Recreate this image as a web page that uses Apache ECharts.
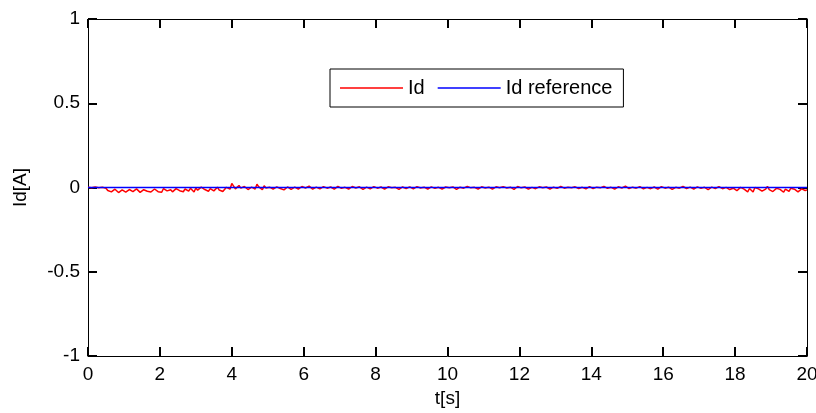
<!DOCTYPE html>
<html>
<head>
<meta charset="utf-8">
<script src="https://cdn.jsdelivr.net/npm/echarts@6/dist/echarts.min.js"></script>
<style>
html,body{margin:0;padding:0;background:#fff;}
#c{width:816px;height:413px;}
</style>
</head>
<body>
<div id="c"></div>
<script>
// ---- data ----
var tStart = 0;
var tStep = 0.05;
var idValues = [
 0.002,0.000,-0.001,0.003,0.003,-0.001,-0.002,0.001,0.001,-0.003,-0.004,-0.018,-0.012,-0.026,-0.022,-0.010,-0.015,-0.030,-0.028,-0.014,
 -0.018,-0.027,-0.025,-0.012,-0.010,-0.024,-0.021,-0.008,-0.014,-0.029,-0.026,-0.013,-0.008,-0.022,-0.019,-0.027,-0.023,-0.009,-0.011,-0.025,
 -0.017,-0.028,-0.006,-0.015,-0.020,-0.011,-0.013,-0.026,-0.024,-0.007,-0.004,-0.019,-0.016,-0.025,-0.009,-0.018,-0.021,-0.005,-0.012,-0.027,
 -0.003,-0.016,-0.018,0.002,0.004,-0.012,-0.014,-0.022,-0.007,0.003,-0.020,-0.009,0.002,-0.015,-0.011,-0.024,-0.016,0.001,0.006,-0.010,
 0.024,0.008,-0.008,-0.016,0.012,-0.004,-0.015,0.006,0.003,-0.012,-0.010,0.002,0.008,-0.009,0.019,0.004,-0.006,-0.013,0.010,-0.003,
 -0.012,0.002,0.005,-0.010,-0.009,0.004,0.011,-0.006,-0.004,-0.014,-0.013,0.003,0.007,-0.011,-0.008,0.002,0.003,-0.009,-0.010,0.006,
 0.014,-0.003,-0.006,0.008,0.009,-0.010,-0.011,0.002,0.004,-0.008,-0.007,0.005,0.012,-0.004,-0.009,0.003,0.006,-0.010,-0.004,0.007,
 0.010,-0.005,-0.012,0.001,0.003,-0.009,-0.008,0.006,0.011,-0.003,-0.005,0.004,0.007,-0.011,-0.010,0.002,0.002,-0.008,-0.006,0.005,
 0.009,-0.004,-0.011,0.003,0.005,-0.010,-0.007,0.004,0.013,-0.002,-0.009,0.001,0.004,-0.011,-0.012,0.003,0.008,-0.006,-0.005,0.004,
 0.006,-0.008,-0.010,0.005,0.011,-0.003,-0.004,0.002,0.003,-0.010,-0.008,0.004,0.009,-0.005,-0.011,0.001,0.005,-0.009,-0.007,0.003,
 0.010,-0.002,-0.006,0.003,0.004,-0.011,-0.012,0.002,0.007,-0.004,-0.003,0.006,0.012,-0.002,-0.009,0.001,0.002,-0.010,-0.008,0.004,
 0.008,-0.003,-0.005,0.002,0.003,-0.009,-0.010,0.004,0.006,-0.002,-0.004,0.005,0.011,-0.003,-0.007,0.002,0.001,-0.011,-0.009,0.006,
 0.012,-0.002,-0.006,0.003,0.005,-0.010,-0.011,0.001,0.003,-0.007,-0.008,0.004,0.009,-0.002,-0.004,0.003,0.007,-0.009,-0.010,0.002,
 0.004,-0.005,-0.007,0.006,0.010,-0.004,-0.012,0.002,0.006,-0.002,-0.003,0.004,0.008,-0.006,-0.009,0.001,0.002,-0.008,-0.006,0.005,
 0.009,-0.006,-0.011,0.002,0.005,-0.002,-0.004,0.007,0.011,-0.005,-0.008,0.001,0.003,-0.009,-0.010,0.004,0.007,-0.003,-0.005,0.008,
 0.012,-0.006,-0.013,0.002,0.006,-0.004,-0.009,0.005,0.010,-0.008,-0.015,0.001,0.004,-0.007,-0.011,0.003,0.008,-0.010,-0.016,0.005,
 0.011,-0.004,-0.012,0.002,0.007,-0.011,-0.018,0.001,0.005,-0.004,-0.010,0.006,0.013,-0.006,-0.014,0.002,0.003,-0.009,-0.017,0.004,
 0.009,-0.005,-0.013,0.001,0.006,-0.012,-0.019,0.002,0.004,-0.006,-0.011,0.005,0.010,-0.007,-0.016,0.001,0.002,-0.012,-0.020,-0.004,
 -0.008,-0.019,-0.024,0.001,0.005,-0.010,-0.018,-0.026,-0.006,-0.015,-0.027,0.000,0.003,-0.008,-0.015,-0.022,-0.021,-0.009,0.007,-0.013,
 -0.012,-0.024,-0.026,-0.005,0.004,-0.011,-0.019,-0.028,-0.009,-0.016,-0.023,-0.004,0.006,-0.010,-0.017,-0.026,-0.025,-0.008,0.002,-0.018,
 -0.014
];
var refTimes = [0, 20];
var refValues = [0, 0];
var xTicks = {min: 0, max: 20, interval: 2};
var yTicks = {min: -1, max: 1, interval: 0.5};
var seriesNames = ['Id', 'Id reference'];

// ---- build ----
var idData = idValues.map(function (v, i) { return [tStart + i * tStep, v]; });
var refData = refTimes.map(function (t, i) { return [t, refValues[i]]; });

var FONT = 'Liberation Sans';
function mkLine() { return {show: true, onZero: false, lineStyle: {color: '#000', width: 1}}; }
function mkTick() { return {show: true, inside: true, length: 9, lineStyle: {color: '#000', width: 2}}; }

var chart = echarts.init(document.getElementById('c'), null, {renderer: 'canvas'});
chart.setOption({
  animation: false,
  backgroundColor: '#fff',
  grid: {left: 88, right: 9, top: 19, bottom: 57, containLabel: false, outerBoundsMode: 'none'},
  legend: {
    left: 330, top: 69,
    padding: [9, 11, 9, 10],
    backgroundColor: '#fff',
    borderColor: '#000', borderWidth: 1,
    icon: 'rect',
    itemWidth: 63, itemHeight: 1.5, itemGap: 13,
    textStyle: {fontFamily: FONT, fontSize: 20, color: '#000'},
    data: seriesNames
  },
  xAxis: [{
    type: 'value', min: xTicks.min, max: xTicks.max, interval: xTicks.interval,
    position: 'bottom',
    name: 't[s]', nameLocation: 'middle', nameGap: 33,
    nameTextStyle: {fontFamily: FONT, fontSize: 19, color: '#000'},
    axisLine: mkLine(), axisTick: mkTick(),
    axisLabel: {fontFamily: FONT, fontSize: 19, color: '#000', margin: 9},
    splitLine: {show: false}
  }, {
    type: 'value', min: xTicks.min, max: xTicks.max, interval: xTicks.interval,
    position: 'top',
    axisLine: mkLine(), axisTick: mkTick(),
    axisLabel: {show: false}, splitLine: {show: false}
  }],
  yAxis: [{
    type: 'value', min: yTicks.min, max: yTicks.max, interval: yTicks.interval,
    position: 'left',
    name: 'Id[A]', nameLocation: 'middle', nameGap: 58, nameRotate: 90,
    nameTextStyle: {fontFamily: FONT, fontSize: 19, color: '#000'},
    axisLine: mkLine(), axisTick: mkTick(),
    axisLabel: {fontFamily: FONT, fontSize: 19, color: '#000', margin: 8},
    splitLine: {show: false}
  }, {
    type: 'value', min: yTicks.min, max: yTicks.max, interval: yTicks.interval,
    position: 'right',
    axisLine: mkLine(), axisTick: mkTick(),
    axisLabel: {show: false}, splitLine: {show: false}
  }],
  series: [{
    name: seriesNames[0], type: 'line', data: idData,
    showSymbol: false, symbol: 'none',
    lineStyle: {color: '#ff0000', width: 1.5},
    itemStyle: {color: '#ff0000'}
  }, {
    name: seriesNames[1], type: 'line', data: refData,
    showSymbol: false, symbol: 'none',
    lineStyle: {color: '#0000ff', width: 1.5},
    itemStyle: {color: '#0000ff'}
  }]
});
</script>
</body>
</html>
